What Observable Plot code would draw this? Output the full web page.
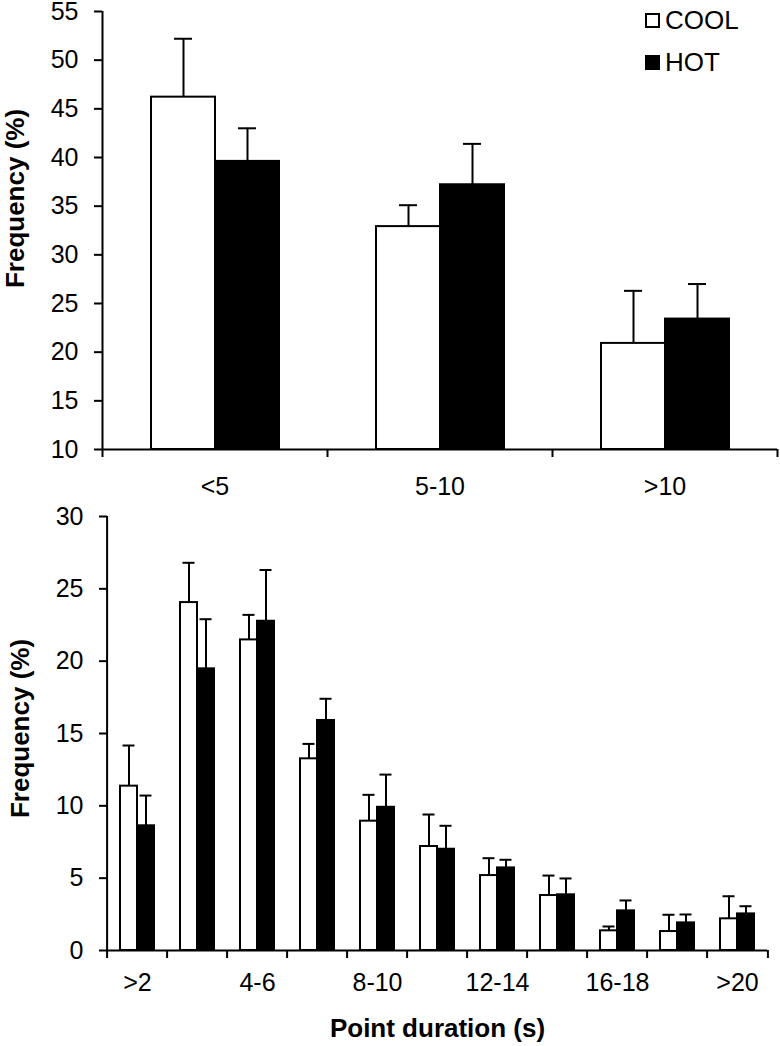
<!DOCTYPE html>
<html><head><meta charset="utf-8">
<script src="https://cdn.jsdelivr.net/npm/d3@7"></script>
<script src="https://cdn.jsdelivr.net/npm/@observablehq/plot@0.6"></script>
<style>
body{margin:0;background:#fff;}
#wrap{position:relative;width:780px;height:1046px;font-family:"Liberation Sans",Arial,sans-serif;color:#000;}
#wrap svg{display:block;}
.legend{position:absolute;left:645px;top:0;}
.row{position:absolute;left:0;display:flex;align-items:center;height:28px;font-size:26px;white-space:nowrap;}
.sw{width:11px;height:11px;border:2px solid #000;margin-right:5px;box-sizing:content-box;}
</style></head><body><div id="wrap"></div>
<script>
const series = ["COOL", "HOT"];

const topCategories = ["<5", "5-10", ">10"];
const topCool   = [46.2, 32.9, 20.9];
const topCoolSE = [6.0, 2.2, 5.4];
const topHot    = [39.6, 37.2, 23.4];
const topHotSE  = [3.4, 4.2, 3.6];
const topYTicks = [10, 15, 20, 25, 30, 35, 40, 45, 50, 55];

const bottomCategories = [">2", "2-4", "4-6", "6-8", "8-10", "10-12", "12-14", "14-16", "16-18", "18-20", ">20"];
const bottomTickLabels = [">2", "4-6", "8-10", "12-14", "16-18", ">20"];
const bottomCool   = [11.36, 24.05, 21.47, 13.25, 8.94, 7.19, 5.18, 3.80, 1.36, 1.31, 2.19];
const bottomCoolSE = [2.81, 2.75, 1.73, 1.03, 1.82, 2.21, 1.20, 1.38, 0.30, 1.16, 1.56];
const bottomHot    = [8.62, 19.47, 22.76, 15.90, 9.90, 7.00, 5.71, 3.85, 2.74, 1.91, 2.53];
const bottomHotSE  = [2.09, 3.43, 3.54, 1.50, 2.26, 1.62, 0.56, 1.13, 0.72, 0.58, 0.53];
const bottomYTicks = [0, 5, 10, 15, 20, 25, 30];

const yLabel = "Frequency (%)";
const xLabel = "Point duration (s)";

function buildRows(cats, cool, coolSE, hot, hotSE) {
  return cats.flatMap((c, i) => [
    {cat: c, series: series[0], value: cool[i], upper: cool[i] + coolSE[i]},
    {cat: c, series: series[1], value: hot[i], upper: hot[i] + hotSE[i]}
  ]);
}

function panel(o) {
  const W = 780, ML = 102;
  const bw = (W - ML - o.marginRight) / o.cats.length;
  const black = "black";
  const FS = 25;
  const marks = [
    Plot.barY(o.rows, {fx: "cat", x: "series", y1: o.yDomain[0], y2: "value", fill: "series", stroke: black, strokeWidth: 2, inset: 0}),
    Plot.ruleX(o.rows, {fx: "cat", x: "series", y1: "value", y2: "upper", stroke: black, strokeWidth: 2}),
    Plot.tickY(o.rows, {fx: "cat", x: "series", y: "upper", stroke: black, strokeWidth: 2, insetLeft: o.capInset, insetRight: o.capInset}),
    Plot.ruleY([o.yDomain[0]], {stroke: black, strokeWidth: 2}),
    Plot.ruleX([o.cats[0]], {fx: d => d, x: null, y1: o.yDomain[0], y2: o.yDomain[1], dx: -bw / 2, stroke: black, strokeWidth: 2}),
    Plot.axisY({ticks: o.yTicks, tickSize: 8, tickPadding: 16, strokeWidth: 2, label: null, fontSize: FS, fill: black}),
    Plot.axisFx({anchor: "bottom", ticks: o.cats, tickSize: 8, tickFormat: () => "", dx: -bw / 2, strokeWidth: 2, label: null}),
    Plot.axisFx({anchor: "bottom", ticks: [o.cats[o.cats.length - 1]], tickSize: 8, tickFormat: () => "", dx: bw / 2, strokeWidth: 2, label: null}),
    Plot.axisFx({anchor: "bottom", ticks: o.fxTicks, tickSize: 0, tickPadding: o.tickPadding, label: null, fontSize: FS, fill: black}),
    Plot.text([{cat: o.cats[0], t: yLabel}], {fx: "cat", text: "t", frameAnchor: "left", textAnchor: "middle", rotate: -90, dx: -87, dy: o.ylabelDy, fontWeight: "bold", fontSize: 26, fill: black})
  ];
  if (o.xTitleCat) {
    marks.push(Plot.text([{cat: o.xTitleCat, t: xLabel}], {fx: "cat", text: "t", frameAnchor: "bottom", textAnchor: "middle", lineAnchor: "top", dy: o.xTitleDy, fontWeight: "bold", fontSize: 26, fill: black}));
  }
  return Plot.plot({
    width: W,
    height: o.height,
    marginLeft: ML,
    marginRight: o.marginRight,
    marginTop: o.marginTop,
    marginBottom: o.marginBottom,
    style: {fontFamily: "'Liberation Sans', Arial, sans-serif", color: "black", background: "white", overflow: "visible"},
    fx: {domain: o.cats, padding: 0, axis: null},
    x: {domain: series, paddingInner: 0, paddingOuter: 0.742, axis: null},
    y: {domain: o.yDomain, axis: null},
    color: {domain: series, range: ["white", "black"]},
    marks
  });
}

const wrap = document.getElementById("wrap");

wrap.appendChild(panel({
  rows: buildRows(topCategories, topCool, topCoolSE, topHot, topHotSE),
  cats: topCategories,
  fxTicks: topCategories,
  yDomain: [10, 55],
  yTicks: topYTicks,
  height: 500, marginTop: 11, marginBottom: 51, marginRight: 3,
  tickPadding: 28, capInset: 23, ylabelDy: -32
}));

wrap.appendChild(panel({
  rows: buildRows(bottomCategories, bottomCool, bottomCoolSE, bottomHot, bottomHotSE),
  cats: bottomCategories,
  fxTicks: bottomTickLabels,
  yDomain: [0, 30],
  yTicks: bottomYTicks,
  height: 546, marginTop: 16, marginBottom: 96, marginRight: 9,
  tickPadding: 23, capInset: 2.5, ylabelDy: -5,
  xTitleCat: bottomCategories[5], xTitleDy: 68
}));

const legend = document.createElement("div");
legend.className = "legend";
series.forEach((s, i) => {
  const row = document.createElement("div");
  row.className = "row";
  row.style.top = (6 + i * 42) + "px";
  const sw = document.createElement("div");
  sw.className = "sw";
  sw.style.background = i === 0 ? "white" : "black";
  const label = document.createElement("span");
  label.textContent = s;
  row.appendChild(sw);
  row.appendChild(label);
  legend.appendChild(row);
});
wrap.appendChild(legend);
</script>
</body></html>
